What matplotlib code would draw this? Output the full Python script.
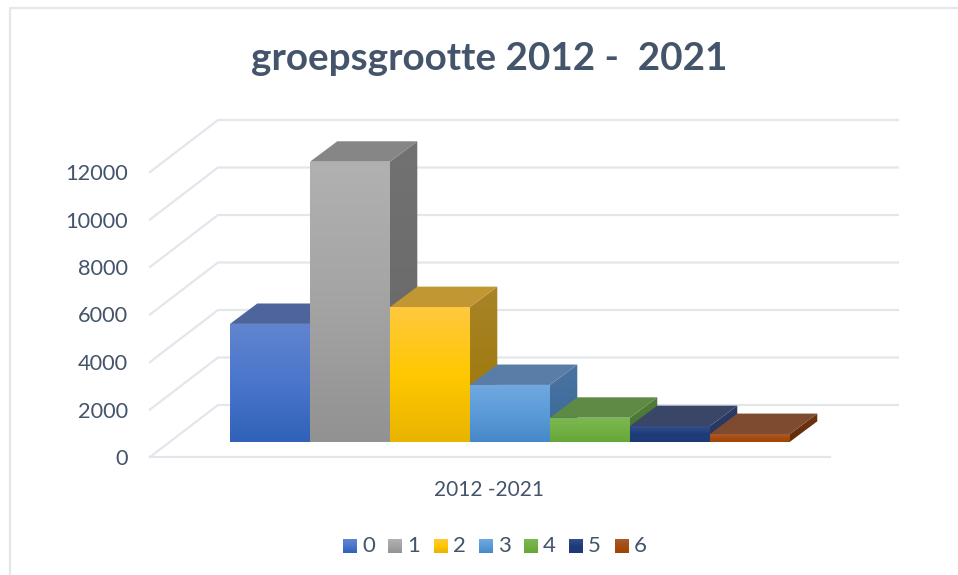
import matplotlib
matplotlib.use("Agg")
import matplotlib.pyplot as plt
import numpy as np
from matplotlib.colors import LinearSegmentedColormap, to_rgb
from matplotlib.patches import Polygon

plt.rcParams["font.family"] = ["Lato", "DejaVu Sans"]

TITLE = "groepsgrootte 2012 -  2021"
PERIOD = "2012 -2021"
GROUPS = ["0", "1", "2", "3", "4", "5", "6"]
COUNTS = [4960, 11790, 5670, 2390, 1010, 660, 325]
Y_TICKS = [0, 2000, 4000, 6000, 8000, 10000, 12000]

FRONT_COLORS = [
    ["#6184cf", "#4a76cc", "#2f62b8"],
    ["#b1b1b1", "#a4a4a4", "#929292"],
    ["#ffc940", "#ffc800", "#e8b400"],
    ["#70a8e0", "#5b9bd8", "#4688c8"],
    ["#7cb852", "#72b044", "#66a636"],
    ["#34508a", "#1f3c7a", "#1e3a76"],
    ["#ab5a30", "#a44c10", "#a04500"],
]
TOP_COLORS = ["#4d659b", "#868686", "#c09733", "#5a7da8", "#5f8a45", "#394668", "#7e4a30"]
SIDE_COLORS = [
    ["#3f5a92", "#2f4c86"],
    ["#727272", "#666666"],
    ["#a98429", "#9a7600"],
    ["#4a74a2", "#386898"],
    ["#517c3a", "#4a7430"],
    ["#2c3c6a", "#24355f"],
    ["#6e3412", "#622c08"],
]

TEXT = "#44546a"
GRID = "#e3e6ec"
W, H = 958, 575


def hex_ramp(colors):
    return LinearSegmentedColormap.from_list("ramp", [to_rgb(c) for c in colors])


fig = plt.figure(figsize=(W / 100, H / 100), dpi=100, facecolor="white")
# Axes frame is the front plane of the chart box; back wall and bars sit behind it.
ax = fig.add_axes([150 / W, 1 - 457 / H, 680 / W, 285 / H])
ax.patch.set_visible(False)
for s in ax.spines.values():
    s.set_visible(False)

xlim = (-1.0, 7.5)
ylim = (0, 12000)
DX, DY = 68 / 80, 52 * 12000 / 285      # full depth of the box in data units
NEAR, FAR = 15.3 / 52, 35.7 / 52        # depth span of the bars
BAR_RUN = 27.3 / 80                     # horizontal run of a bar's side face


def wall(x, y, d):
    return x + d * DX, y + d * DY


def bar_point(x, y, d):
    return x + (d - NEAR) / (FAR - NEAR) * BAR_RUN, y + d * DY


def gradient_face(xy, colors, zorder):
    xs, ys = zip(*xy)
    patch = Polygon(xy, closed=True, transform=ax.transData, fc="none", ec="none")
    ax.add_patch(patch)
    patch.set_clip_on(False)
    im = ax.imshow(np.linspace(0, 1, 256)[:, None], cmap=hex_ramp(colors), aspect="auto",
                   extent=(min(xs), max(xs), min(ys), max(ys)), origin="upper",
                   interpolation="bilinear", zorder=zorder)
    im.set_clip_box(fig.bbox)
    im.set_clip_path(patch)


# Walls: gridlines run along the side wall and across the back wall.
for v in Y_TICKS:
    x0, y0 = wall(xlim[0], v, 0)
    x1, y1 = wall(xlim[0], v, 1)
    x2, y2 = wall(xlim[1], v, 1)
    ax.plot([x0, x1, x2], [y0, y1, y2], color=GRID, lw=1.6, clip_on=False, zorder=1,
            solid_joinstyle="miter")
ax.plot([xlim[0], xlim[1]], [0, 0], color=GRID, lw=1.6, clip_on=False, zorder=1)

# Bars are drawn left to right so each one overlaps the side of its neighbour.
for i, v in enumerate(COUNTS):
    base = NEAR * DY
    top = base + v
    l, r = i, i + 1
    fb = [(l, base), (r, base), (r, top), (l, top)]
    side = [bar_point(r, v, NEAR), bar_point(r, v, FAR), bar_point(r, 0, FAR), bar_point(r, 0, NEAR)]
    roof = [bar_point(l, v, NEAR), bar_point(r, v, NEAR), bar_point(r, v, FAR), bar_point(l, v, FAR)]
    z = 2 + i * 0.1
    gradient_face(side, SIDE_COLORS[i], z)
    ax.add_patch(Polygon(roof, closed=True, fc=TOP_COLORS[i], ec="none", clip_on=False, zorder=z))
    gradient_face(fb, FRONT_COLORS[i], z + 0.01)

ax.set_xlim(*xlim)
ax.set_ylim(*ylim)
ax.set_yticks(Y_TICKS)
ax.set_xticks([(489 - 230) / 80])
ax.set_xticklabels([PERIOD])
ax.tick_params(axis="y", length=0, pad=16, labelsize=15.7, labelcolor=TEXT)
ax.tick_params(axis="x", length=0, pad=16.5, labelsize=15, labelcolor=TEXT)

# Overlay in pixel units for the outer frame, title and legend.
ov = fig.add_axes([0, 0, 1, 1], zorder=-1)
ov.set_xlim(0, W)
ov.set_ylim(H, 0)
ov.axis("off")
ov.plot([10, 10, W], [H, 8, 8], color=GRID, lw=1.6)

ov.text(489, 59, TITLE, ha="center", va="center", fontsize=27.8, fontweight="bold", color=TEXT)

LEGEND_X = [343, 388, 434, 479, 524, 569, 615]
for x, name, colors in zip(LEGEND_X, GROUPS, FRONT_COLORS):
    ov.imshow(np.linspace(0, 1, 64)[:, None], cmap=hex_ramp(colors), aspect="auto",
              extent=(x, x + 14, 553, 539), origin="upper", interpolation="bilinear")
    ov.text(x + 19, 546, name, ha="left", va="center", fontsize=16, color=TEXT)
ov.set_xlim(0, W)
ov.set_ylim(H, 0)

fig.savefig("out.png", dpi=100)
